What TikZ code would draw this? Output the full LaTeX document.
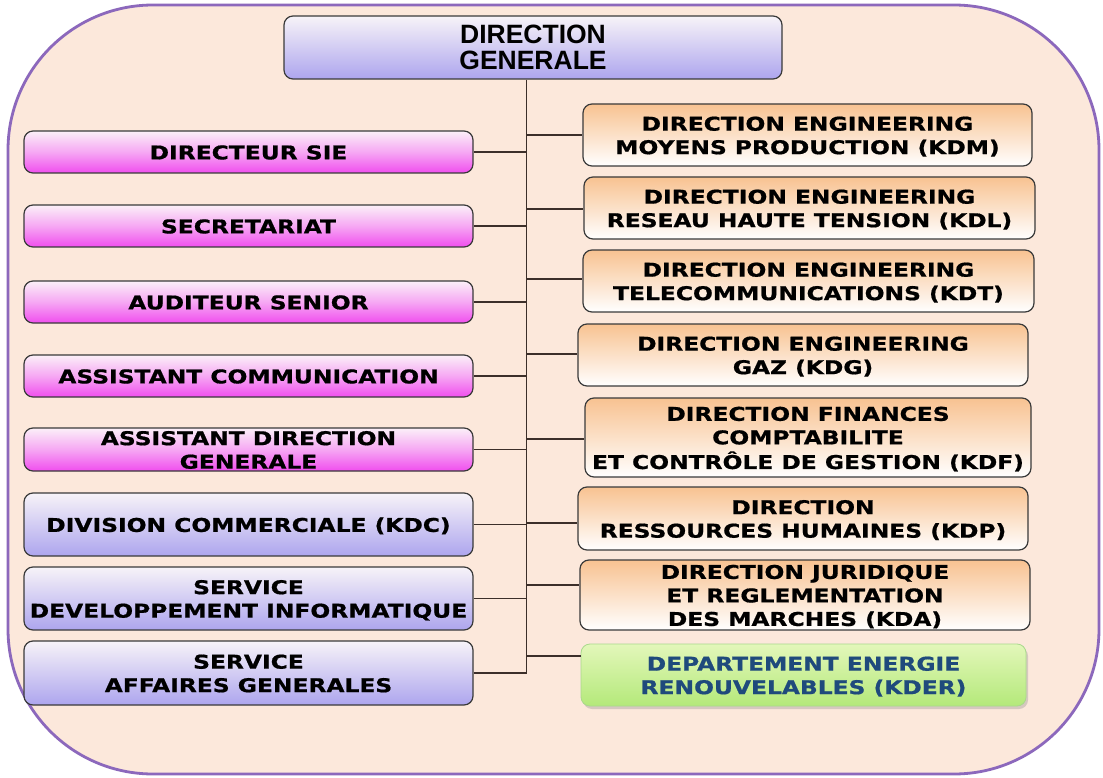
\documentclass[tikz,border=0pt]{standalone}
\usepackage{fontspec}
\newfontfamily\vfont[FakeStretch=1.23,FakeBold=0.8]{DejaVu Sans}
\newfontfamily\afont{Liberation Sans}
\usetikzlibrary{shadows}
\definecolor{framefill}{HTML}{FCE8DB}
\definecolor{framedraw}{HTML}{8C68BC}
\definecolor{boxline}{HTML}{3A3A3A}
\definecolor{linkcol}{HTML}{3C2F2A}
\definecolor{pinktop}{HTML}{FBF0F8}
\definecolor{pinkbot}{HTML}{F04EEE}
\definecolor{bluetop}{HTML}{F7F3F8}
\definecolor{bluebot}{HTML}{ADA5EE}
\definecolor{orangetop}{HTML}{F8C291}
\definecolor{orangebot}{HTML}{FFFFFF}
\definecolor{greentop}{HTML}{E3F7BA}
\definecolor{greenbot}{HTML}{B4E97A}
\definecolor{greenline}{HTML}{A9D98C}
\definecolor{kdertext}{HTML}{1F4A7C}
\newcommand\bt[1]{\smash{\raisebox{-0.37em}{\makebox[0pt]{\begin{tabular}{@{}c@{}}#1\end{tabular}}}}}
\tikzset{
  frame/.style={draw=framedraw, line width=2.8pt, fill=framefill, rounded corners=145pt},
  box/.style={draw=boxline, line width=1.2pt, rounded corners=9pt, inner sep=0pt,
    font=\vfont\bfseries\fontsize{19}{23.5}\selectfont},
  pinkbox/.style={box, top color=pinktop, bottom color=pinkbot, middle color=pinkbot!45!pinktop},
  bluebox/.style={box, top color=bluetop, bottom color=bluebot},
  orangebox/.style={box, top color=orangetop, bottom color=orangebot},
  greenbox/.style={box, draw=greenline, line width=0.8pt, top color=greentop, bottom color=greenbot,
    text=kdertext, drop shadow={opacity=0.3, shadow xshift=2pt, shadow yshift=-3pt}},
  dgbox/.style={box, top color=bluetop, bottom color=bluebot, font=\afont\bfseries\fontsize{26.5}{25}\selectfont},
  link/.style={draw=linkcol, line width=1.6pt},
}
\begin{document}
\begin{tikzpicture}[x=1pt, y=-1pt]
\useasboundingbox (0,0) rectangle (1103,778);
\fill[white] (0,0) rectangle (1103,778);
\draw[frame] (8,5) rectangle (1099,774);
% top
\node[dgbox, minimum width=498, minimum height=63] (dg) at (533,47.5) {\bt{DIRECTION\\GENERALE}};
% left column
\node[pinkbox, minimum width=449, minimum height=42] (sie) at (248.5,152) {\bt{DIRECTEUR SIE}};
\node[pinkbox, minimum width=449, minimum height=42] (sec) at (248.5,226) {\bt{SECRETARIAT}};
\node[pinkbox, minimum width=449, minimum height=42] (aud) at (248.5,302) {\bt{AUDITEUR SENIOR}};
\node[pinkbox, minimum width=449, minimum height=42] (com) at (248.5,376) {\bt{ASSISTANT COMMUNICATION}};
\node[pinkbox, minimum width=449, minimum height=43] (adg) at (248.5,449.5) {\bt{ASSISTANT DIRECTION\\GENERALE}};
\node[bluebox, minimum width=449, minimum height=63] (div) at (248.5,524.5) {\bt{DIVISION COMMERCIALE (KDC)}};
\node[bluebox, minimum width=449, minimum height=63] (dev) at (248.5,598.5) {\bt{SERVICE\\DEVELOPPEMENT INFORMATIQUE}};
\node[bluebox, minimum width=449, minimum height=64] (sag) at (248.5,673) {\bt{SERVICE\\AFFAIRES GENERALES}};
% right column
\node[orangebox, minimum width=449, minimum height=62] (kdm) at (807.5,135) {\bt{DIRECTION ENGINEERING\\MOYENS PRODUCTION (KDM)}};
\node[orangebox, minimum width=451, minimum height=62] (kdl) at (809.5,208) {\bt{DIRECTION ENGINEERING\\RESEAU HAUTE TENSION (KDL)}};
\node[orangebox, minimum width=451, minimum height=62] (kdt) at (808.5,281) {\bt{DIRECTION ENGINEERING\\TELECOMMUNICATIONS (KDT)}};
\node[orangebox, minimum width=450, minimum height=62] (kdg) at (803,355) {\bt{DIRECTION ENGINEERING\\GAZ (KDG)}};
\node[orangebox, minimum width=446, minimum height=79] (kdf) at (808,437.5) {\bt{DIRECTION FINANCES\\COMPTABILITE\\ET CONTRÔLE DE GESTION (KDF)}};
\node[orangebox, minimum width=450, minimum height=63] (kdp) at (803,518.5) {\bt{DIRECTION\\RESSOURCES HUMAINES (KDP)}};
\node[orangebox, minimum width=450, minimum height=70] (kda) at (805,595) {\bt{DIRECTION JURIDIQUE\\ET REGLEMENTATION\\DES MARCHES (KDA)}};
\node[greenbox, minimum width=445, minimum height=62] (kder) at (803.5,675) {\bt{DEPARTEMENT ENERGIE\\RENOUVELABLES (KDER)}};
% connectors
\coordinate (trunk) at (526.5,0);
\draw[link] (trunk |- dg.south) -- (trunk |- sag.east);
\foreach \n in {sie,sec,aud,com,adg,div,dev,sag}
  \draw[link] (\n.east) -- (trunk |- \n.east);
\foreach \n/\y in {kdm/135,kdl/209,kdt/279,kdg/354,kdf/439,kdp/523,kda/585,kder/656}
  \draw[link] (trunk |- 0,\y) -- (\n.west |- 0,\y);
\end{tikzpicture}
\end{document}
